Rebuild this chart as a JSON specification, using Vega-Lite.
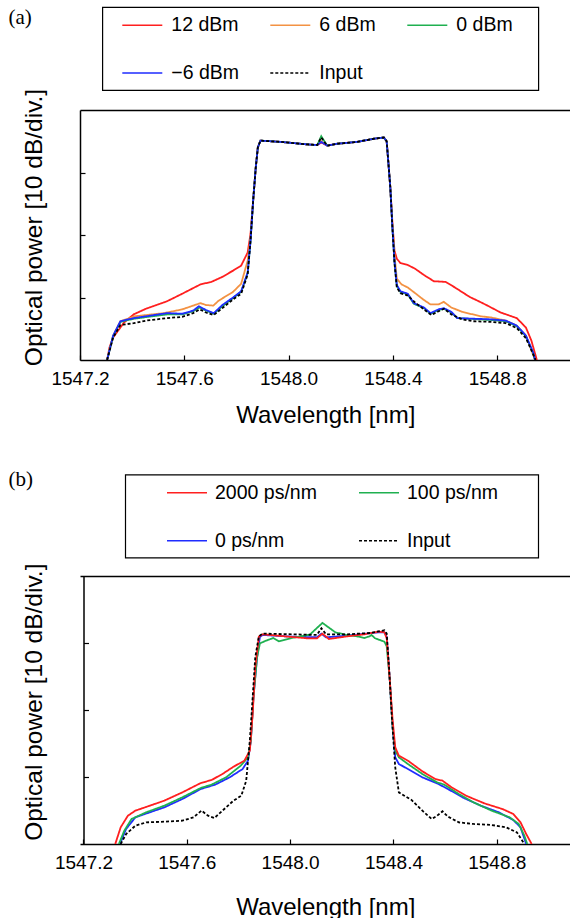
{
"$schema": "https://vega.github.io/schema/vega-lite/v6.json",
"padding": {"left": 8, "top": 6, "right": 0, "bottom": 0},
"autosize": {"type": "pad"},
"background": "white",
"spacing": 216,
"bounds": "flush",
"resolve": {"scale": {"x": "independent", "y": "independent", "color": "independent", "strokeDash": "independent"}, "axis": {"x": "independent", "y": "independent"}, "legend": {"color": "independent", "strokeDash": "independent"}},
"config": {
  "font": "Liberation Sans",
  "view": {"stroke": null},
  "axis": {"grid": false, "domainColor": "#000", "domainWidth": 1.5, "tickColor": "#000", "tickWidth": 1.2, "labelColor": "#000", "labelFont": "Liberation Sans", "labelFontSize": 19, "titleColor": "#000", "titleFont": "Liberation Sans", "titleFontWeight": "normal", "titleFontSize": 24},
  "legend": {"labelFont": "Liberation Sans", "labelFontSize": 19.5, "labelColor": "#000", "symbolSize": 400, "symbolStrokeWidth": 1.5, "padding": 7, "strokeColor": "#000", "strokeWidth": 1.2, "labelLimit": 400, "titleFontSize": 1, "titleOrient": "right", "direction": "horizontal"},
  "title": {"font": "Liberation Serif", "fontSize": 21, "fontWeight": "normal", "color": "#000", "anchor": "start", "frame": "group", "dx": -71.5}
},
"datasets": {
"a": [
{"s":"12 dBm","wl":1547.304,"p":0},{"s":"12 dBm","wl":1547.313,"p":2.0},{"s":"12 dBm","wl":1547.327,"p":3.6},{"s":"12 dBm","wl":1547.369,"p":6.0},{"s":"12 dBm","wl":1547.406,"p":7.3},{"s":"12 dBm","wl":1547.453,"p":8.2},{"s":"12 dBm","wl":1547.534,"p":9.4},{"s":"12 dBm","wl":1547.592,"p":10.6},{"s":"12 dBm","wl":1547.662,"p":12.1},{"s":"12 dBm","wl":1547.704,"p":12.5},{"s":"12 dBm","wl":1547.746,"p":13.3},{"s":"12 dBm","wl":1547.787,"p":14.3},{"s":"12 dBm","wl":1547.818,"p":15.1},{"s":"12 dBm","wl":1547.843,"p":17.2},{"s":"12 dBm","wl":1547.854,"p":20.2},{"s":"12 dBm","wl":1547.864,"p":25.5},{"s":"12 dBm","wl":1547.874,"p":30.8},{"s":"12 dBm","wl":1547.882,"p":34.0},{"s":"12 dBm","wl":1547.892,"p":35.1},{"s":"12 dBm","wl":1547.969,"p":34.9},{"s":"12 dBm","wl":1548.071,"p":34.5},{"s":"12 dBm","wl":1548.110,"p":34.4},{"s":"12 dBm","wl":1548.125,"p":34.8},{"s":"12 dBm","wl":1548.148,"p":34.3},{"s":"12 dBm","wl":1548.186,"p":34.6},{"s":"12 dBm","wl":1548.263,"p":34.9},{"s":"12 dBm","wl":1548.327,"p":35.4},{"s":"12 dBm","wl":1548.365,"p":35.6},{"s":"12 dBm","wl":1548.376,"p":35.0},{"s":"12 dBm","wl":1548.381,"p":32.4},{"s":"12 dBm","wl":1548.390,"p":27.6},{"s":"12 dBm","wl":1548.398,"p":22.0},{"s":"12 dBm","wl":1548.406,"p":17.5},{"s":"12 dBm","wl":1548.415,"p":16.2},{"s":"12 dBm","wl":1548.429,"p":15.5},{"s":"12 dBm","wl":1548.457,"p":15.2},{"s":"12 dBm","wl":1548.485,"p":14.6},{"s":"12 dBm","wl":1548.519,"p":13.6},{"s":"12 dBm","wl":1548.557,"p":12.6},{"s":"12 dBm","wl":1548.602,"p":12.5},{"s":"12 dBm","wl":1548.638,"p":11.6},{"s":"12 dBm","wl":1548.694,"p":10.1},{"s":"12 dBm","wl":1548.749,"p":9.0},{"s":"12 dBm","wl":1548.813,"p":7.6},{"s":"12 dBm","wl":1548.875,"p":6.7},{"s":"12 dBm","wl":1548.910,"p":5.2},{"s":"12 dBm","wl":1548.931,"p":3.1},{"s":"12 dBm","wl":1548.952,"p":0},
{"s":"6 dBm","wl":1547.304,"p":0},{"s":"6 dBm","wl":1547.327,"p":3.9},{"s":"6 dBm","wl":1547.355,"p":6.2},{"s":"6 dBm","wl":1547.411,"p":7.0},{"s":"6 dBm","wl":1547.522,"p":7.5},{"s":"6 dBm","wl":1547.592,"p":8.1},{"s":"6 dBm","wl":1547.634,"p":8.7},{"s":"6 dBm","wl":1547.662,"p":9.1},{"s":"6 dBm","wl":1547.683,"p":8.8},{"s":"6 dBm","wl":1547.711,"p":8.7},{"s":"6 dBm","wl":1547.732,"p":9.5},{"s":"6 dBm","wl":1547.787,"p":10.9},{"s":"6 dBm","wl":1547.818,"p":12.2},{"s":"6 dBm","wl":1547.843,"p":15.9},{"s":"6 dBm","wl":1547.854,"p":19.5},{"s":"6 dBm","wl":1547.864,"p":25.5},{"s":"6 dBm","wl":1547.874,"p":30.8},{"s":"6 dBm","wl":1547.882,"p":34.0},{"s":"6 dBm","wl":1547.892,"p":35.1},{"s":"6 dBm","wl":1547.969,"p":34.9},{"s":"6 dBm","wl":1548.071,"p":34.5},{"s":"6 dBm","wl":1548.110,"p":34.4},{"s":"6 dBm","wl":1548.125,"p":35.0},{"s":"6 dBm","wl":1548.148,"p":34.3},{"s":"6 dBm","wl":1548.186,"p":34.6},{"s":"6 dBm","wl":1548.263,"p":34.9},{"s":"6 dBm","wl":1548.327,"p":35.4},{"s":"6 dBm","wl":1548.365,"p":35.6},{"s":"6 dBm","wl":1548.376,"p":35.0},{"s":"6 dBm","wl":1548.381,"p":32.4},{"s":"6 dBm","wl":1548.390,"p":27.6},{"s":"6 dBm","wl":1548.398,"p":21.5},{"s":"6 dBm","wl":1548.406,"p":16.8},{"s":"6 dBm","wl":1548.415,"p":13.0},{"s":"6 dBm","wl":1548.433,"p":12.1},{"s":"6 dBm","wl":1548.457,"p":11.6},{"s":"6 dBm","wl":1548.485,"p":10.7},{"s":"6 dBm","wl":1548.519,"p":9.6},{"s":"6 dBm","wl":1548.544,"p":8.9},{"s":"6 dBm","wl":1548.575,"p":8.9},{"s":"6 dBm","wl":1548.595,"p":9.3},{"s":"6 dBm","wl":1548.624,"p":8.4},{"s":"6 dBm","wl":1548.666,"p":7.7},{"s":"6 dBm","wl":1548.736,"p":7.0},{"s":"6 dBm","wl":1548.777,"p":6.8},{"s":"6 dBm","wl":1548.833,"p":6.3},{"s":"6 dBm","wl":1548.875,"p":5.5},{"s":"6 dBm","wl":1548.910,"p":3.9},{"s":"6 dBm","wl":1548.945,"p":0},
{"s":"0 dBm","wl":1547.304,"p":0},{"s":"0 dBm","wl":1547.327,"p":3.8},{"s":"0 dBm","wl":1547.355,"p":6.1},{"s":"0 dBm","wl":1547.406,"p":6.6},{"s":"0 dBm","wl":1547.534,"p":7.3},{"s":"0 dBm","wl":1547.592,"p":7.3},{"s":"0 dBm","wl":1547.634,"p":7.8},{"s":"0 dBm","wl":1547.659,"p":8.4},{"s":"0 dBm","wl":1547.683,"p":7.9},{"s":"0 dBm","wl":1547.713,"p":7.4},{"s":"0 dBm","wl":1547.746,"p":8.6},{"s":"0 dBm","wl":1547.787,"p":9.9},{"s":"0 dBm","wl":1547.818,"p":10.9},{"s":"0 dBm","wl":1547.843,"p":13.9},{"s":"0 dBm","wl":1547.854,"p":19.1},{"s":"0 dBm","wl":1547.864,"p":25.5},{"s":"0 dBm","wl":1547.874,"p":30.8},{"s":"0 dBm","wl":1547.882,"p":34.0},{"s":"0 dBm","wl":1547.892,"p":35.1},{"s":"0 dBm","wl":1547.969,"p":34.9},{"s":"0 dBm","wl":1548.071,"p":34.5},{"s":"0 dBm","wl":1548.110,"p":34.4},{"s":"0 dBm","wl":1548.125,"p":35.8},{"s":"0 dBm","wl":1548.148,"p":34.3},{"s":"0 dBm","wl":1548.186,"p":34.6},{"s":"0 dBm","wl":1548.263,"p":34.9},{"s":"0 dBm","wl":1548.327,"p":35.4},{"s":"0 dBm","wl":1548.365,"p":35.6},{"s":"0 dBm","wl":1548.376,"p":35.0},{"s":"0 dBm","wl":1548.381,"p":32.4},{"s":"0 dBm","wl":1548.390,"p":27.6},{"s":"0 dBm","wl":1548.398,"p":21.2},{"s":"0 dBm","wl":1548.406,"p":15.8},{"s":"0 dBm","wl":1548.415,"p":11.8},{"s":"0 dBm","wl":1548.429,"p":10.9},{"s":"0 dBm","wl":1548.457,"p":10.5},{"s":"0 dBm","wl":1548.480,"p":9.0},{"s":"0 dBm","wl":1548.519,"p":8.3},{"s":"0 dBm","wl":1548.544,"p":7.4},{"s":"0 dBm","wl":1548.575,"p":8.0},{"s":"0 dBm","wl":1548.595,"p":8.2},{"s":"0 dBm","wl":1548.624,"p":7.6},{"s":"0 dBm","wl":1548.647,"p":6.7},{"s":"0 dBm","wl":1548.777,"p":6.4},{"s":"0 dBm","wl":1548.833,"p":6.2},{"s":"0 dBm","wl":1548.875,"p":5.4},{"s":"0 dBm","wl":1548.910,"p":3.8},{"s":"0 dBm","wl":1548.938,"p":1.1},{"s":"0 dBm","wl":1548.945,"p":0},
{"s":"−6 dBm","wl":1547.304,"p":0},{"s":"−6 dBm","wl":1547.327,"p":3.9},{"s":"−6 dBm","wl":1547.355,"p":6.2},{"s":"−6 dBm","wl":1547.406,"p":6.7},{"s":"−6 dBm","wl":1547.534,"p":7.5},{"s":"−6 dBm","wl":1547.592,"p":7.4},{"s":"−6 dBm","wl":1547.634,"p":7.9},{"s":"−6 dBm","wl":1547.656,"p":8.6},{"s":"−6 dBm","wl":1547.683,"p":8.0},{"s":"−6 dBm","wl":1547.713,"p":7.5},{"s":"−6 dBm","wl":1547.746,"p":8.8},{"s":"−6 dBm","wl":1547.787,"p":10.0},{"s":"−6 dBm","wl":1547.818,"p":11.0},{"s":"−6 dBm","wl":1547.843,"p":14.0},{"s":"−6 dBm","wl":1547.854,"p":19.1},{"s":"−6 dBm","wl":1547.864,"p":25.5},{"s":"−6 dBm","wl":1547.874,"p":30.8},{"s":"−6 dBm","wl":1547.882,"p":34.0},{"s":"−6 dBm","wl":1547.892,"p":35.1},{"s":"−6 dBm","wl":1547.969,"p":34.9},{"s":"−6 dBm","wl":1548.071,"p":34.5},{"s":"−6 dBm","wl":1548.110,"p":34.4},{"s":"−6 dBm","wl":1548.125,"p":34.9},{"s":"−6 dBm","wl":1548.148,"p":34.3},{"s":"−6 dBm","wl":1548.186,"p":34.6},{"s":"−6 dBm","wl":1548.263,"p":34.9},{"s":"−6 dBm","wl":1548.327,"p":35.4},{"s":"−6 dBm","wl":1548.365,"p":35.6},{"s":"−6 dBm","wl":1548.376,"p":35.0},{"s":"−6 dBm","wl":1548.381,"p":32.4},{"s":"−6 dBm","wl":1548.390,"p":27.6},{"s":"−6 dBm","wl":1548.398,"p":21.2},{"s":"−6 dBm","wl":1548.406,"p":15.8},{"s":"−6 dBm","wl":1548.415,"p":12.0},{"s":"−6 dBm","wl":1548.429,"p":11.0},{"s":"−6 dBm","wl":1548.457,"p":10.6},{"s":"−6 dBm","wl":1548.480,"p":9.1},{"s":"−6 dBm","wl":1548.519,"p":8.4},{"s":"−6 dBm","wl":1548.544,"p":7.5},{"s":"−6 dBm","wl":1548.575,"p":8.1},{"s":"−6 dBm","wl":1548.595,"p":8.3},{"s":"−6 dBm","wl":1548.624,"p":7.7},{"s":"−6 dBm","wl":1548.647,"p":6.7},{"s":"−6 dBm","wl":1548.777,"p":6.5},{"s":"−6 dBm","wl":1548.833,"p":6.3},{"s":"−6 dBm","wl":1548.875,"p":5.5},{"s":"−6 dBm","wl":1548.910,"p":3.9},{"s":"−6 dBm","wl":1548.938,"p":1.2},{"s":"−6 dBm","wl":1548.945,"p":0},
{"s":"Input","wl":1547.304,"p":0},{"s":"Input","wl":1547.327,"p":3.6},{"s":"Input","wl":1547.355,"p":5.6},{"s":"Input","wl":1547.406,"p":5.9},{"s":"Input","wl":1547.453,"p":6.3},{"s":"Input","wl":1547.534,"p":6.7},{"s":"Input","wl":1547.592,"p":6.9},{"s":"Input","wl":1547.634,"p":7.5},{"s":"Input","wl":1547.659,"p":8.1},{"s":"Input","wl":1547.683,"p":7.6},{"s":"Input","wl":1547.713,"p":7.2},{"s":"Input","wl":1547.746,"p":8.3},{"s":"Input","wl":1547.787,"p":9.7},{"s":"Input","wl":1547.818,"p":10.6},{"s":"Input","wl":1547.843,"p":13.7},{"s":"Input","wl":1547.854,"p":19.1},{"s":"Input","wl":1547.864,"p":25.5},{"s":"Input","wl":1547.874,"p":30.8},{"s":"Input","wl":1547.882,"p":34.0},{"s":"Input","wl":1547.892,"p":35.1},{"s":"Input","wl":1547.969,"p":34.9},{"s":"Input","wl":1548.071,"p":34.5},{"s":"Input","wl":1548.110,"p":34.4},{"s":"Input","wl":1548.125,"p":35.6},{"s":"Input","wl":1548.148,"p":34.3},{"s":"Input","wl":1548.186,"p":34.6},{"s":"Input","wl":1548.263,"p":34.9},{"s":"Input","wl":1548.327,"p":35.4},{"s":"Input","wl":1548.365,"p":35.6},{"s":"Input","wl":1548.376,"p":35.0},{"s":"Input","wl":1548.381,"p":32.4},{"s":"Input","wl":1548.390,"p":27.6},{"s":"Input","wl":1548.398,"p":21.2},{"s":"Input","wl":1548.406,"p":15.5},{"s":"Input","wl":1548.415,"p":11.6},{"s":"Input","wl":1548.429,"p":10.7},{"s":"Input","wl":1548.457,"p":10.3},{"s":"Input","wl":1548.485,"p":9.2},{"s":"Input","wl":1548.519,"p":8.1},{"s":"Input","wl":1548.547,"p":7.2},{"s":"Input","wl":1548.575,"p":7.8},{"s":"Input","wl":1548.596,"p":8.2},{"s":"Input","wl":1548.624,"p":7.3},{"s":"Input","wl":1548.666,"p":6.5},{"s":"Input","wl":1548.708,"p":6.2},{"s":"Input","wl":1548.777,"p":6.1},{"s":"Input","wl":1548.833,"p":5.9},{"s":"Input","wl":1548.875,"p":5.1},{"s":"Input","wl":1548.910,"p":3.5},{"s":"Input","wl":1548.938,"p":0.9},{"s":"Input","wl":1548.947,"p":0}
],
"b": [
{"s":"0 ps/nm","wl":1547.341,"p":0},{"s":"0 ps/nm","wl":1547.365,"p":2.24},{"s":"0 ps/nm","wl":1547.401,"p":3.98},{"s":"0 ps/nm","wl":1547.457,"p":4.73},{"s":"0 ps/nm","wl":1547.513,"p":5.47},{"s":"0 ps/nm","wl":1547.583,"p":6.72},{"s":"0 ps/nm","wl":1547.654,"p":8.21},{"s":"0 ps/nm","wl":1547.710,"p":8.86},{"s":"0 ps/nm","wl":1547.766,"p":9.95},{"s":"0 ps/nm","wl":1547.816,"p":11.19},{"s":"0 ps/nm","wl":1547.837,"p":12.44},{"s":"0 ps/nm","wl":1547.848,"p":15.42},{"s":"0 ps/nm","wl":1547.858,"p":21.89},{"s":"0 ps/nm","wl":1547.872,"p":27.86},{"s":"0 ps/nm","wl":1547.883,"p":30.9},{"s":"0 ps/nm","wl":1547.893,"p":31.2},{"s":"0 ps/nm","wl":1548.006,"p":30.95},{"s":"0 ps/nm","wl":1548.104,"p":30.85},{"s":"0 ps/nm","wl":1548.121,"p":31.4},{"s":"0 ps/nm","wl":1548.139,"p":30.85},{"s":"0 ps/nm","wl":1548.222,"p":31.1},{"s":"0 ps/nm","wl":1548.343,"p":31.6},{"s":"0 ps/nm","wl":1548.365,"p":31.6},{"s":"0 ps/nm","wl":1548.374,"p":30.9},{"s":"0 ps/nm","wl":1548.386,"p":24.38},{"s":"0 ps/nm","wl":1548.397,"p":17.41},{"s":"0 ps/nm","wl":1548.407,"p":12.94},{"s":"0 ps/nm","wl":1548.421,"p":11.94},{"s":"0 ps/nm","wl":1548.456,"p":11.19},{"s":"0 ps/nm","wl":1548.512,"p":9.95},{"s":"0 ps/nm","wl":1548.569,"p":9.05},{"s":"0 ps/nm","wl":1548.611,"p":8.21},{"s":"0 ps/nm","wl":1548.667,"p":6.97},{"s":"0 ps/nm","wl":1548.738,"p":5.72},{"s":"0 ps/nm","wl":1548.808,"p":4.73},{"s":"0 ps/nm","wl":1548.864,"p":3.58},{"s":"0 ps/nm","wl":1548.892,"p":2.49},{"s":"0 ps/nm","wl":1548.914,"p":0},
{"s":"100 ps/nm","wl":1547.337,"p":0},{"s":"100 ps/nm","wl":1547.358,"p":1.99},{"s":"100 ps/nm","wl":1547.386,"p":3.73},{"s":"100 ps/nm","wl":1547.443,"p":4.73},{"s":"100 ps/nm","wl":1547.513,"p":5.72},{"s":"100 ps/nm","wl":1547.583,"p":6.97},{"s":"100 ps/nm","wl":1547.654,"p":8.36},{"s":"100 ps/nm","wl":1547.696,"p":8.86},{"s":"100 ps/nm","wl":1547.752,"p":9.95},{"s":"100 ps/nm","wl":1547.809,"p":11.69},{"s":"100 ps/nm","wl":1547.837,"p":12.94},{"s":"100 ps/nm","wl":1547.848,"p":15.42},{"s":"100 ps/nm","wl":1547.858,"p":21.89},{"s":"100 ps/nm","wl":1547.872,"p":27.86},{"s":"100 ps/nm","wl":1547.883,"p":29.95},{"s":"100 ps/nm","wl":1547.907,"p":30.35},{"s":"100 ps/nm","wl":1547.935,"p":30.75},{"s":"100 ps/nm","wl":1547.956,"p":30.25},{"s":"100 ps/nm","wl":1548.006,"p":30.75},{"s":"100 ps/nm","wl":1548.076,"p":31.24},{"s":"100 ps/nm","wl":1548.125,"p":33.0},{"s":"100 ps/nm","wl":1548.175,"p":31.6},{"s":"100 ps/nm","wl":1548.217,"p":31.2},{"s":"100 ps/nm","wl":1548.259,"p":31.0},{"s":"100 ps/nm","wl":1548.287,"p":30.75},{"s":"100 ps/nm","wl":1548.308,"p":31.0},{"s":"100 ps/nm","wl":1548.315,"p":31.2},{"s":"100 ps/nm","wl":1548.329,"p":30.7},{"s":"100 ps/nm","wl":1548.365,"p":30.2},{"s":"100 ps/nm","wl":1548.374,"p":29.5},{"s":"100 ps/nm","wl":1548.386,"p":24.38},{"s":"100 ps/nm","wl":1548.397,"p":17.41},{"s":"100 ps/nm","wl":1548.407,"p":13.93},{"s":"100 ps/nm","wl":1548.421,"p":12.94},{"s":"100 ps/nm","wl":1548.456,"p":11.94},{"s":"100 ps/nm","wl":1548.512,"p":10.45},{"s":"100 ps/nm","wl":1548.569,"p":9.2},{"s":"100 ps/nm","wl":1548.597,"p":8.86},{"s":"100 ps/nm","wl":1548.653,"p":7.46},{"s":"100 ps/nm","wl":1548.710,"p":6.22},{"s":"100 ps/nm","wl":1548.780,"p":4.98},{"s":"100 ps/nm","wl":1548.850,"p":3.98},{"s":"100 ps/nm","wl":1548.885,"p":2.99},{"s":"100 ps/nm","wl":1548.907,"p":1.24},{"s":"100 ps/nm","wl":1548.918,"p":0},
{"s":"2000 ps/nm","wl":1547.323,"p":0},{"s":"2000 ps/nm","wl":1547.344,"p":2.49},{"s":"2000 ps/nm","wl":1547.372,"p":4.23},{"s":"2000 ps/nm","wl":1547.401,"p":4.98},{"s":"2000 ps/nm","wl":1547.457,"p":5.72},{"s":"2000 ps/nm","wl":1547.513,"p":6.47},{"s":"2000 ps/nm","wl":1547.583,"p":7.71},{"s":"2000 ps/nm","wl":1547.654,"p":9.1},{"s":"2000 ps/nm","wl":1547.696,"p":9.55},{"s":"2000 ps/nm","wl":1547.738,"p":10.45},{"s":"2000 ps/nm","wl":1547.781,"p":11.54},{"s":"2000 ps/nm","wl":1547.823,"p":12.44},{"s":"2000 ps/nm","wl":1547.844,"p":13.93},{"s":"2000 ps/nm","wl":1547.855,"p":19.4},{"s":"2000 ps/nm","wl":1547.865,"p":26.37},{"s":"2000 ps/nm","wl":1547.879,"p":30.95},{"s":"2000 ps/nm","wl":1547.893,"p":31.3},{"s":"2000 ps/nm","wl":1548.006,"p":30.9},{"s":"2000 ps/nm","wl":1548.067,"p":30.7},{"s":"2000 ps/nm","wl":1548.104,"p":30.7},{"s":"2000 ps/nm","wl":1548.125,"p":31.4},{"s":"2000 ps/nm","wl":1548.150,"p":30.6},{"s":"2000 ps/nm","wl":1548.222,"p":31.0},{"s":"2000 ps/nm","wl":1548.287,"p":31.3},{"s":"2000 ps/nm","wl":1548.343,"p":31.7},{"s":"2000 ps/nm","wl":1548.365,"p":31.6},{"s":"2000 ps/nm","wl":1548.374,"p":30.7},{"s":"2000 ps/nm","wl":1548.386,"p":24.38},{"s":"2000 ps/nm","wl":1548.397,"p":18.41},{"s":"2000 ps/nm","wl":1548.407,"p":14.43},{"s":"2000 ps/nm","wl":1548.421,"p":13.18},{"s":"2000 ps/nm","wl":1548.456,"p":12.44},{"s":"2000 ps/nm","wl":1548.512,"p":10.85},{"s":"2000 ps/nm","wl":1548.562,"p":9.7},{"s":"2000 ps/nm","wl":1548.590,"p":9.45},{"s":"2000 ps/nm","wl":1548.625,"p":8.46},{"s":"2000 ps/nm","wl":1548.681,"p":7.21},{"s":"2000 ps/nm","wl":1548.752,"p":6.07},{"s":"2000 ps/nm","wl":1548.822,"p":5.22},{"s":"2000 ps/nm","wl":1548.864,"p":4.48},{"s":"2000 ps/nm","wl":1548.892,"p":3.23},{"s":"2000 ps/nm","wl":1548.914,"p":1.49},{"s":"2000 ps/nm","wl":1548.935,"p":0},
{"s":"Input","wl":1547.344,"p":0},{"s":"Input","wl":1547.365,"p":1.49},{"s":"Input","wl":1547.401,"p":2.74},{"s":"Input","wl":1547.443,"p":3.23},{"s":"Input","wl":1547.513,"p":3.33},{"s":"Input","wl":1547.583,"p":3.48},{"s":"Input","wl":1547.626,"p":3.98},{"s":"Input","wl":1547.657,"p":4.98},{"s":"Input","wl":1547.682,"p":4.23},{"s":"Input","wl":1547.707,"p":3.88},{"s":"Input","wl":1547.738,"p":4.98},{"s":"Input","wl":1547.781,"p":6.47},{"s":"Input","wl":1547.811,"p":7.21},{"s":"Input","wl":1547.830,"p":9.45},{"s":"Input","wl":1547.844,"p":15.42},{"s":"Input","wl":1547.855,"p":21.89},{"s":"Input","wl":1547.865,"p":27.86},{"s":"Input","wl":1547.879,"p":31.0},{"s":"Input","wl":1547.893,"p":31.4},{"s":"Input","wl":1548.006,"p":31.3},{"s":"Input","wl":1548.104,"p":31.2},{"s":"Input","wl":1548.121,"p":32.2},{"s":"Input","wl":1548.139,"p":31.3},{"s":"Input","wl":1548.222,"p":31.3},{"s":"Input","wl":1548.312,"p":31.5},{"s":"Input","wl":1548.365,"p":31.9},{"s":"Input","wl":1548.374,"p":31.4},{"s":"Input","wl":1548.383,"p":26.37},{"s":"Input","wl":1548.393,"p":19.4},{"s":"Input","wl":1548.407,"p":11.44},{"s":"Input","wl":1548.421,"p":7.71},{"s":"Input","wl":1548.442,"p":7.21},{"s":"Input","wl":1548.470,"p":6.57},{"s":"Input","wl":1548.512,"p":4.98},{"s":"Input","wl":1548.548,"p":3.73},{"s":"Input","wl":1548.569,"p":4.23},{"s":"Input","wl":1548.590,"p":4.88},{"s":"Input","wl":1548.611,"p":4.08},{"s":"Input","wl":1548.653,"p":3.23},{"s":"Input","wl":1548.710,"p":2.99},{"s":"Input","wl":1548.780,"p":2.84},{"s":"Input","wl":1548.836,"p":2.49},{"s":"Input","wl":1548.878,"p":1.74},{"s":"Input","wl":1548.907,"p":0}
]
},
"vconcat": [
{
  "title": {"text": "(a)", "dy": 25.7},
  "data": {"name": "a"},
  "width": 490.5, "height": 250,
  "resolve": {"axis": {"x": "independent", "y": "independent"}},
  "layer": [
    {"mark": {"type": "line", "strokeWidth": 1.8, "clip": true},
     "encoding": {
       "x": {"field": "wl", "type": "quantitative", "scale": {"domain": [1547.2, 1549.081], "nice": false, "zero": false},
             "axis": {"orient": "bottom", "values": [1547.2, 1547.6, 1548.0, 1548.4, 1548.8], "format": ".1f", "tickSize": -5, "labelPadding": 14, "labelFlush": false, "labelOverlap": false, "title": "Wavelength [nm]", "titlePadding": 15.5}},
       "y": {"field": "p", "type": "quantitative", "scale": {"domain": [0, 40], "nice": false, "zero": false},
             "axis": {"orient": "left", "values": [10, 20, 30], "tickSize": -5, "labels": false, "title": "Optical power [10 dB/div.]", "titlePadding": 32.5, "titleY": 117, "titleFontSize": 24.5}},
       "color": {"field": "s", "type": "nominal",
         "scale": {"domain": ["12 dBm", "6 dBm", "0 dBm", "−6 dBm", "Input"], "range": ["#ff1f1f", "#f39243", "#1fb050", "#1f2cff", "#000000"]},
         "legend": {"title": " ", "titlePadding": 19, "orient": "none", "legendX": 22.3, "legendY": -103, "columns": 3, "direction": "horizontal", "symbolType": "M0.2,0H4.2", "labelOffset": 40, "rowPadding": 27, "columnPadding": 18}},
       "strokeDash": {"field": "s", "type": "nominal",
         "scale": {"domain": ["12 dBm", "6 dBm", "0 dBm", "−6 dBm", "Input"], "range": [[1, 0], [1, 0], [1, 0], [1, 0], [3, 2]]},
         "legend": {"title": " ", "titlePadding": 19, "orient": "none", "legendX": 22.3, "legendY": -103, "columns": 3, "direction": "horizontal", "symbolType": "M0.2,0H4.2", "labelOffset": 40, "rowPadding": 27, "columnPadding": 18}}
     }},
    {"mark": {"type": "line", "opacity": 0},
     "encoding": {
       "x": {"field": "wl", "type": "quantitative", "axis": {"orient": "top", "labels": false, "ticks": false, "title": null, "grid": false}},
       "y": {"field": "p", "type": "quantitative", "axis": null}
     }}
  ]
},
{
  "title": {"text": "(b)", "dy": 20},
  "data": {"name": "b"},
  "width": 490.5, "height": 268,
  "resolve": {"axis": {"x": "independent", "y": "independent"}},
  "layer": [
    {"mark": {"type": "line", "strokeWidth": 1.8, "clip": true},
     "encoding": {
       "x": {"field": "wl", "type": "quantitative", "scale": {"domain": [1547.1865, 1549.0855], "nice": false, "zero": false},
             "axis": {"orient": "bottom", "values": [1547.2, 1547.6, 1548.0, 1548.4, 1548.8], "format": ".1f", "tickSize": -5, "labelPadding": 14, "labelFlush": false, "labelOverlap": false, "title": "Wavelength [nm]", "titlePadding": 23}},
       "y": {"field": "p", "type": "quantitative", "scale": {"domain": [0, 40], "nice": false, "zero": false},
             "axis": {"orient": "left", "values": [10, 20, 30], "tickSize": -5, "labels": false, "offset": -3.5, "title": "Optical power [10 dB/div.]", "titlePadding": 36, "titleY": 125.7, "titleFontSize": 24.5}},
       "color": {"field": "s", "type": "nominal",
         "scale": {"domain": ["2000 ps/nm", "100 ps/nm", "0 ps/nm", "Input"], "range": ["#ff1f1f", "#1fb050", "#1f2cff", "#000000"]},
         "legend": {"title": " ", "titlePadding": 33, "orient": "none", "legendX": 45.2, "legendY": -101.5, "columns": 2, "direction": "horizontal", "symbolType": "M2.38,0H6.38", "labelOffset": 60.8, "rowPadding": 27.3, "columnPadding": 7}},
       "strokeDash": {"field": "s", "type": "nominal",
         "scale": {"domain": ["2000 ps/nm", "100 ps/nm", "0 ps/nm", "Input"], "range": [[1, 0], [1, 0], [1, 0], [3, 2]]},
         "legend": {"title": " ", "titlePadding": 33, "orient": "none", "legendX": 45.2, "legendY": -101.5, "columns": 2, "direction": "horizontal", "symbolType": "M2.38,0H6.38", "labelOffset": 60.8, "rowPadding": 27.3, "columnPadding": 7}}
     }},
    {"mark": {"type": "line", "opacity": 0},
     "encoding": {
       "x": {"field": "wl", "type": "quantitative", "axis": {"orient": "top", "labels": false, "ticks": false, "title": null, "grid": false}},
       "y": {"field": "p", "type": "quantitative", "axis": null}
     }}
  ]
}
]
}
